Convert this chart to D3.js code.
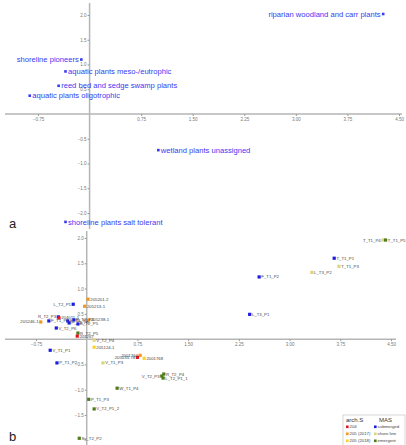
<!DOCTYPE html>
<html>
<head>
<meta charset="utf-8">
<title>MAS ordination</title>
<script src="https://cdn.jsdelivr.net/npm/d3@7"></script>
<style>
  body { margin: 0; background: #fff; }
  text { font-family: "Liberation Sans", Arial, sans-serif; }
</style>
</head>
<body>
<svg id="chart" width="406" height="445"></svg>
<script>
// ---- panel a: group centroids ----
var groupNames = ["riparian woodland and carr plants", "shoreline pioneers", "aquatic plants meso-/eutrophic",
  "reed bed and sedge swamp plants", "aquatic plants oligotrophic", "wetland plants unassigned",
  "shoreline plants salt tolerant"];
var groupX = [4.27, -0.12, -0.35, -0.45, -0.87, 1.0, -0.35];
var groupY = [2.02, 1.10, 0.86, 0.57, 0.37, -0.73, -2.18];
var groupSide = ["left", "left", "right", "right", "right", "right", "right"];

// ---- panel b: samples / transects ----
var sampleNames = ["T_T1_P4", "T_T1_P5", "T_T1_P1", "T_T1_P3", "L_T3_P2", "F_T1_P2", "L_T3_P1",
  "205201-2", "205213-1", "L_T2_P1", "205238-1", "205246-1", "F_T1_P1", "R_T2_P3", "204011-1",
  "E_T3_P5", "E_T2_P4", "P_T2_P5", "E_T2_P5", "V_T2_P6", "R_T2_P5", "204267", "V_T2_P4", "205124-1",
  "V_T1_P1", "P_T1_P2", "V_T1_P3", "2001764", "205033-78", "2001768", "R_T2_P4", "V_T2_P3",
  "L_T2_P1_1", "W_T1_P4", "P_T1_P3", "V_T2_P1_2", "Sy_T2_P2"];
var sampleX = [4.38, 4.42, 3.66, 3.73, 3.33, 2.55, 2.41,
  0.02, -0.03, -0.20, 0.03, -0.68, -0.56, -0.42, -0.41,
  -0.28, -0.19, -0.26, -0.13, -0.45, -0.13, -0.14, 0.11, 0.11,
  -0.54, -0.44, 0.24, 0.79, 0.75, 0.85, 1.14, 1.11,
  1.13, 0.45, 0.03, 0.11, -0.11];
var sampleY = [1.96, 1.96, 1.60, 1.44, 1.32, 1.23, 0.49,
  0.79, 0.65, 0.69, 0.38, 0.34, 0.36, 0.44, 0.42,
  0.36, 0.38, 0.32, 0.30, 0.22, 0.12, 0.06, -0.02, -0.16,
  -0.22, -0.47, -0.47, -0.32, -0.36, -0.38, -0.69, -0.73,
  -0.77, -0.97, -1.19, -1.38, -1.96];
var sampleClass = ["shore line", "emergent", "submerged", "shore line", "shore line", "submerged", "submerged",
  "205 (2017)", "205 (2017)", "submerged", "205 (2017)", "205 (2017)", "submerged", "submerged", "204",
  "submerged", "submerged", "submerged", "submerged", "submerged", "emergent", "204", "shore line", "205 (2018)",
  "submerged", "submerged", "shore line", "205 (2017)", "204", "205 (2018)", "emergent", "emergent",
  "emergent", "emergent", "emergent", "emergent", "emergent"];
var sampleSide = ["left", "right", "right", "right", "right", "right", "right",
  "right", "right", "left", "right", "left", "right", "left", "right",
  "right", "right", "right", "right", "right", "right", "right", "right", "right",
  "right", "right", "right", "left", "left", "right", "right", "left",
  "right", "right", "right", "right", "right"];

var xTicks = [-0.75, 0.75, 1.5, 2.25, 3.0, 3.75, 4.5];
var yTicksA = [-2, -1.5, -1, -0.5, 0.5, 1, 1.5, 2];
var yTicksB = [-1.5, -1, -0.5, 0.5, 1, 1.5, 2];

var archCats = ["204", "205 (2017)", "205 (2018)"];
var masCats = ["submerged", "shore line", "emergent"];
var color = d3.scaleOrdinal()
  .domain(archCats.concat(masCats))
  .range(["#e3161d", "#f7941d", "#fcd22a", "#1c1ce0", "#ddd57a", "#4e7a1c"]);

var svg = d3.select("#chart");
var blue = "#3a3af2";

function drawAxes(g, x, y, yTicks, xFrom, xTo, yFrom, yTo) {
  g.append("line").attr("x1", xFrom).attr("x2", xTo).attr("y1", y(0)).attr("y2", y(0))
    .attr("stroke", "#b5b5b5").attr("stroke-width", 1.5);
  g.append("line").attr("x1", x(0)).attr("x2", x(0)).attr("y1", yFrom).attr("y2", yTo)
    .attr("stroke", "#b5b5b5").attr("stroke-width", 1.5);
  var ax = g.append("g").attr("transform", "translate(0," + y(0) + ")")
    .call(d3.axisBottom(x).tickValues(xTicks).tickFormat(d3.format(".2f")).tickSize(2).tickPadding(2));
  var ay = g.append("g").attr("transform", "translate(" + x(0) + ",0)")
    .call(d3.axisLeft(y).tickValues(yTicks).tickFormat(d3.format(".1f")).tickSize(2).tickPadding(1));
  [ax, ay].forEach(function (a) {
    a.select(".domain").remove();
    a.selectAll("line").attr("stroke", "#999");
    a.selectAll("text").attr("fill", "#777").style("font-size", "4.5px");
  });
}

// ---- panel a ----
var xa = d3.scaleLinear().domain([-0.75, 4.5]).range([38, 399]);
var ya = d3.scaleLinear().domain([-2, 2]).range([213, 15]);
var ga = svg.append("g");
drawAxes(ga, xa, ya, yTicksA, 5, 402, 3, 229);

var groups = groupNames.map(function (n, i) { return { name: n, x: groupX[i], y: groupY[i], side: groupSide[i] }; });
ga.selectAll("rect.g").data(groups).enter().append("rect")
  .attr("x", function (d) { return xa(d.x) - 1.3; })
  .attr("y", function (d) { return ya(d.y) - 1.3; })
  .attr("width", 2.6).attr("height", 2.6).attr("fill", blue);
ga.selectAll("text.g").data(groups).enter().append("text")
  .attr("x", function (d) { return xa(d.x) + (d.side == "left" ? -2.5 : 2.5); })
  .attr("y", function (d) { return ya(d.y); })
  .attr("dy", "0.35em")
  .attr("text-anchor", function (d) { return d.side == "left" ? "end" : "start"; })
  .attr("fill", blue).style("font-size", "7.6px")
  .text(function (d) { return d.name; });

svg.append("text").attr("x", 9).attr("y", 228).text("a").style("font-size", "13px").attr("fill", "#222");

// ---- panel b ----
var xb = d3.scaleLinear().domain([-0.75, 4.5]).range([36, 391]);
var yb = d3.scaleLinear().domain([-1.5, 2]).range([415, 238]);
var gb = svg.append("g");
drawAxes(gb, xb, yb, yTicksB, 5, 396, 231, 445);

var samples = sampleNames.map(function (n, i) {
  return { name: n, x: sampleX[i], y: sampleY[i], cls: sampleClass[i], side: sampleSide[i] };
});
gb.selectAll("rect.s").data(samples).enter().append("rect")
  .attr("x", function (d) { return xb(d.x) - 1.6; })
  .attr("y", function (d) { return yb(d.y) - 1.6; })
  .attr("width", 3.2).attr("height", 3.2)
  .attr("fill", function (d) { return color(d.cls); });
gb.selectAll("text.s").data(samples).enter().append("text")
  .attr("x", function (d) { return xb(d.x) + (d.side == "left" ? -2.2 : 2.2); })
  .attr("y", function (d) { return yb(d.y); })
  .attr("dy", "0.35em")
  .attr("text-anchor", function (d) { return d.side == "left" ? "end" : "start"; })
  .attr("fill", "#444").style("font-size", "4.3px")
  .text(function (d) { return d.name; });

svg.append("text").attr("x", 9).attr("y", 441).text("b").style("font-size", "13px").attr("fill", "#222");

// ---- legend ----
var lg = svg.append("g").attr("transform", "translate(343,415)");
lg.append("rect").attr("width", 62).attr("height", 32).attr("fill", "#fff")
  .attr("stroke", "#bbb").attr("stroke-width", 0.6);
lg.append("text").attr("x", 3).attr("y", 7).text("arch.S").style("font-size", "6px").attr("fill", "#333");
lg.append("text").attr("x", 36).attr("y", 7).text("MAS").style("font-size", "6px").attr("fill", "#333");
[archCats, masCats].forEach(function (cats, c) {
  var col = lg.append("g").attr("transform", "translate(" + (c == 0 ? 3 : 31) + ",0)");
  col.selectAll("rect").data(cats).enter().append("rect")
    .attr("x", 0).attr("y", function (d, i) { return 10.5 + i * 7; })
    .attr("width", 2.6).attr("height", 2.6).attr("fill", function (d) { return color(d); });
  col.selectAll("text").data(cats).enter().append("text")
    .attr("x", 3.6).attr("y", function (d, i) { return 11.8 + i * 7; })
    .attr("dy", "0.35em").style("font-size", "4.3px").attr("fill", "#444")
    .text(function (d) { return d; });
});
</script>
</body>
</html>
